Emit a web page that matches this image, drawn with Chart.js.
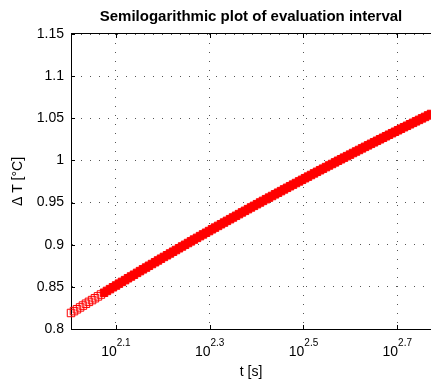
<!DOCTYPE html>
<html>
<head>
<meta charset="utf-8">
<script src="https://cdn.jsdelivr.net/npm/chart.js@4/dist/chart.umd.min.js"></script>
<style>
html,body{margin:0;padding:0;background:#fff;overflow:hidden;}
#c{display:block;width:431px;height:379px;}
</style>
</head>
<body>
<canvas id="c" width="431" height="379"></canvas>
<script>
// ---- data ----
const timeSeconds = [
101.0,102.5,104.0,105.6,107.1,108.7,110.3,112.0,113.6,115.3,
117.0,118.8,120.5,122.3,124.1,126.0,127.8,129.7,131.7,133.6,
135.6,137.6,139.7,141.7,143.8,146.0,148.1,150.3,152.6,154.8,
157.1,159.4,161.8,164.2,166.7,169.1,171.6,174.2,176.8,179.4,
182.0,184.7,187.5,190.3,193.1,196.0,198.9,201.8,204.8,207.9,
210.9,214.1,217.2,220.5,223.7,227.1,230.4,233.8,237.3,240.8,
244.4,248.0,251.7,255.5,259.2,263.1,267.0,271.0,275.0,279.1,
283.2,287.4,291.7,296.0,300.4,304.8,309.4,314.0,318.6,323.3,
328.1,333.0,337.9,343.0,348.0,353.2,358.5,363.8,369.2,374.6,
380.2,385.8,391.6,397.4,403.3,409.3,415.3,421.5,427.7,434.1,
440.5,447.1,453.7,460.4,467.3,474.2,481.2,488.4,495.6,503.0,
510.4,518.0,525.7,533.5,541.4,549.5,557.6,565.9,574.3,582.8,
591.4
];
const deltaT = [
0.8190,0.8212,0.8234,0.8256,0.8278,0.8300,0.8322,0.8343,0.8365,0.8387,
0.8409,0.8430,0.8452,0.8473,0.8495,0.8516,0.8538,0.8559,0.8580,0.8602,
0.8623,0.8644,0.8666,0.8687,0.8708,0.8729,0.8750,0.8771,0.8792,0.8813,
0.8834,0.8855,0.8875,0.8896,0.8917,0.8937,0.8958,0.8979,0.8999,0.9020,
0.9040,0.9061,0.9081,0.9102,0.9122,0.9142,0.9162,0.9183,0.9203,0.9223,
0.9243,0.9263,0.9283,0.9303,0.9323,0.9343,0.9363,0.9383,0.9402,0.9422,
0.9442,0.9461,0.9481,0.9501,0.9520,0.9540,0.9559,0.9578,0.9598,0.9617,
0.9636,0.9656,0.9675,0.9694,0.9713,0.9732,0.9751,0.9770,0.9789,0.9808,
0.9827,0.9846,0.9865,0.9884,0.9902,0.9921,0.9940,0.9958,0.9977,0.9996,
1.0014,1.0033,1.0051,1.0069,1.0088,1.0106,1.0124,1.0143,1.0161,1.0179,
1.0197,1.0215,1.0233,1.0251,1.0269,1.0287,1.0305,1.0323,1.0340,1.0358,
1.0376,1.0394,1.0411,1.0429,1.0446,1.0464,1.0481,1.0499,1.0516,1.0534,
1.0551
];
const xTickBase = '10';
const xTickExponents = ['2.1','2.3','2.5','2.7'];
const yTickValues = [0.8,0.85,0.9,0.95,1,1.05,1.1,1.15];
const yTickLabels = ['0.8','0.85','0.9','0.95','1','1.05','1.1','1.15'];
const xRange = [101, 591.4];
const yRange = [0.8, 1.15];
const titleText = 'Semilogarithmic plot of evaluation interval';
const xTitle = 't [s]';
const yTitle = '\u0394 T [\u00B0C]';

const FONT = "'Liberation Sans', Arial, Helvetica, sans-serif";

const points = timeSeconds.map((t, i) => ({x: t, y: deltaT[i]}));

const decorPlugin = {
  id: 'decor',
  afterDraw(chart) {
    const ctx = chart.ctx;
    const a = chart.chartArea;
    const xs = chart.scales.x, ys = chart.scales.y;
    ctx.save();
    ctx.strokeStyle = '#000';
    ctx.lineWidth = 1;
    ctx.beginPath();
    ctx.moveTo(a.left, Math.round(a.top) - 0.5);
    ctx.lineTo(chart.width, Math.round(a.top) - 0.5);
    ctx.stroke();
    ctx.beginPath();
    xs.ticks.forEach(tk => {
      const px = Math.round(xs.getPixelForValue(tk.value)) + 0.5;
      ctx.moveTo(px, a.bottom); ctx.lineTo(px, a.bottom - 4);
      ctx.moveTo(px, a.top); ctx.lineTo(px, a.top + 4);
    });
    ys.ticks.forEach(tk => {
      const py = Math.round(ys.getPixelForValue(tk.value)) + 0.5;
      ctx.moveTo(a.left, py); ctx.lineTo(a.left + 4, py);
    });
    ctx.stroke();
    ctx.fillStyle = '#000';
    ctx.textBaseline = 'alphabetic';
    ctx.textAlign = 'left';
    xTickExponents.forEach(e => {
      const px = xs.getPixelForValue(Math.pow(10, parseFloat(e)));
      ctx.font = '14px ' + FONT;
      const w1 = ctx.measureText(xTickBase).width;
      ctx.font = '10px ' + FONT;
      const w2 = ctx.measureText(e).width;
      const x0 = px - (w1 + w2) / 2;
      ctx.font = '14px ' + FONT;
      ctx.fillText(xTickBase, x0, 356);
      ctx.font = '10px ' + FONT;
      ctx.fillText(e, x0 + w1, 345.5);
    });
    ctx.restore();
  }
};

new Chart(document.getElementById('c'), {
  type: 'scatter',
  data: {
    datasets: [{
      data: points,
      showLine: false,
      pointStyle: 'rect',
      pointRadius: 5.3,
      pointBorderWidth: 1,
      pointBorderColor: '#ff0000',
      pointBackgroundColor: ctx => (ctx.dataIndex < 11 ? 'rgba(255,255,255,0)' : '#ff0000'),
      clip: false
    }]
  },
  options: {
    responsive: false,
    animation: false,
    events: [],
    layout: {padding: 0, autoPadding: false},
    plugins: {
      legend: {display: false},
      tooltip: {enabled: false},
      title: {
        display: true,
        fullSize: false,
        text: titleText,
        color: '#000',
        font: {family: FONT, size: 15, weight: 'bold', lineHeight: 1.2},
        padding: {top: 8, bottom: 8}
      }
    },
    scales: {
      x: {
        type: 'logarithmic',
        position: 'bottom',
        min: xRange[0],
        max: xRange[1],
        afterBuildTicks: s => { s.ticks = xTickExponents.map(e => ({value: Math.pow(10, parseFloat(e))})); },
        afterFit: s => { s.height = 50; },
        ticks: {display: false},
        grid: {display: true, color: '#555', lineWidth: 1, drawTicks: false},
        border: {display: true, color: '#000', width: 1, dash: [1, 8]},
        title: {display: true, text: xTitle, color: '#000', font: {family: FONT, size: 14, lineHeight: 1}, padding: {top: 0, bottom: 0}}
      },
      y: {
        type: 'linear',
        position: 'left',
        min: yRange[0],
        max: yRange[1],
        afterBuildTicks: s => { s.ticks = yTickValues.map(v => ({value: v})); },
        afterFit: s => { s.width = 71; },
        ticks: {
          color: '#000',
          font: {family: FONT, size: 14},
          padding: 7,
          callback: (v, i) => yTickLabels[i]
        },
        grid: {display: true, color: '#555', lineWidth: 1, drawTicks: false},
        border: {display: true, color: '#000', width: 1, dash: [1, 8]},
        title: {display: true, text: yTitle, color: '#000', font: {family: FONT, size: 14, lineHeight: 1.2}, padding: {top: 10, bottom: 0}}
      }
    }
  },
  plugins: [decorPlugin]
});
</script>
</body>
</html>
